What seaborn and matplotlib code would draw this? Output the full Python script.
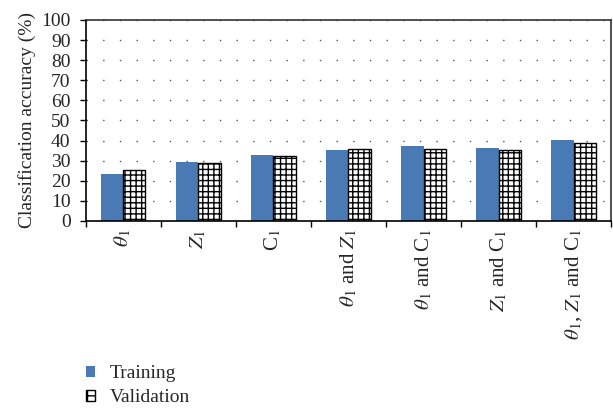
import matplotlib
matplotlib.use("Agg")
import matplotlib.pyplot as plt
import seaborn as sns
import pandas as pd
import numpy as np
from matplotlib.patches import Patch

# Feature sets and their classification accuracies (%)
categories = [r"$\theta_1$", r"$Z_1$", r"C$_1$", r"$\theta_1$ and $Z_1$",
              r"$\theta_1$ and C$_1$", r"$Z_1$ and C$_1$", r"$\theta_1$, $Z_1$ and C$_1$"]
training = [23.4, 29.2, 32.8, 35.5, 37.1, 36.5, 40.4]
validation = [25.3, 29.0, 32.2, 36.0, 36.0, 35.5, 39.0]
series = ["Training", "Validation"]

df = pd.DataFrame({
    "feature": categories * 2,
    "accuracy": training + validation,
    "set": [series[0]] * len(categories) + [series[1]] * len(categories),
})

sns.set_theme(style="white")
plt.rcParams["font.family"] = ["Liberation Serif", "DejaVu Serif"]
plt.rcParams["mathtext.fontset"] = "stix"
plt.rcParams["hatch.linewidth"] = 1.0
plt.rcParams["hatch.color"] = "black"

blue = "#4a7ab4"
fs = 14

fig = plt.figure(figsize=(6.13, 4.11), dpi=100)
ax = fig.add_axes([0.140, 0.4625, 0.857, 0.489])

sns.barplot(data=df, x="feature", y="accuracy", hue="set", order=categories,
            hue_order=series, palette=[blue, "white"], width=0.59, gap=0,
            ax=ax, legend=False, saturation=1)

# Training bars: flat blue; validation bars: black grid hatch with outline
n = len(categories)
for i, p in enumerate(ax.patches[:2 * n]):
    if i < n:
        p.set_edgecolor("none")
        p.set_linewidth(0)
    else:
        p.set_facecolor("white")
        p.set_edgecolor("black")
        p.set_hatch("+++")
        p.set_linewidth(1.0)

ax.set_xlim(-0.5, n - 0.5)
ax.set_ylim(0, 100)
ax.set_yticks(np.arange(0, 101, 10))
ax.set_yticklabels([str(v) for v in range(0, 101, 10)], fontsize=fs)
ax.set_xlabel("")
ax.set_ylabel("Classification accuracy (%)", fontsize=fs, labelpad=4)

# Dotted horizontal gridlines
ax.yaxis.grid(True, color="#555555", linestyle=(0, (1, 11)), linewidth=1.0)
ax.set_axisbelow(True)

# Category labels at centers, tick marks at category boundaries
ax.set_xticks(range(n))
ax.set_xticklabels(categories, rotation=90, fontsize=15, va="top", ha="center")
ax.set_xticks(np.arange(-0.5, n, 1.0), minor=True)
ax.tick_params(axis="x", which="major", length=0, pad=6)
ax.tick_params(axis="x", which="minor", length=4, width=1, color="black", direction="out", bottom=True)
ax.tick_params(axis="y", length=4, width=1, color="black", direction="out", left=True, pad=7)

for side in ["left", "bottom"]:
    ax.spines[side].set_color("black")
    ax.spines[side].set_linewidth(1.2)
for side in ["top", "right"]:
    ax.spines[side].set_color("#333333")
    ax.spines[side].set_linewidth(1.2)

handles = [Patch(facecolor=blue, edgecolor="none", label=series[0]),
           Patch(facecolor="white", edgecolor="black", hatch="++", label=series[1])]
fig.legend(handles=handles, loc="upper left", bbox_to_anchor=(0.127, 0.13),
           frameon=False, fontsize=fs, handlelength=0.5, handleheight=0.5,
           handletextpad=0.75, labelspacing=0.35, borderaxespad=0)

fig.savefig("out.png", dpi=100)
